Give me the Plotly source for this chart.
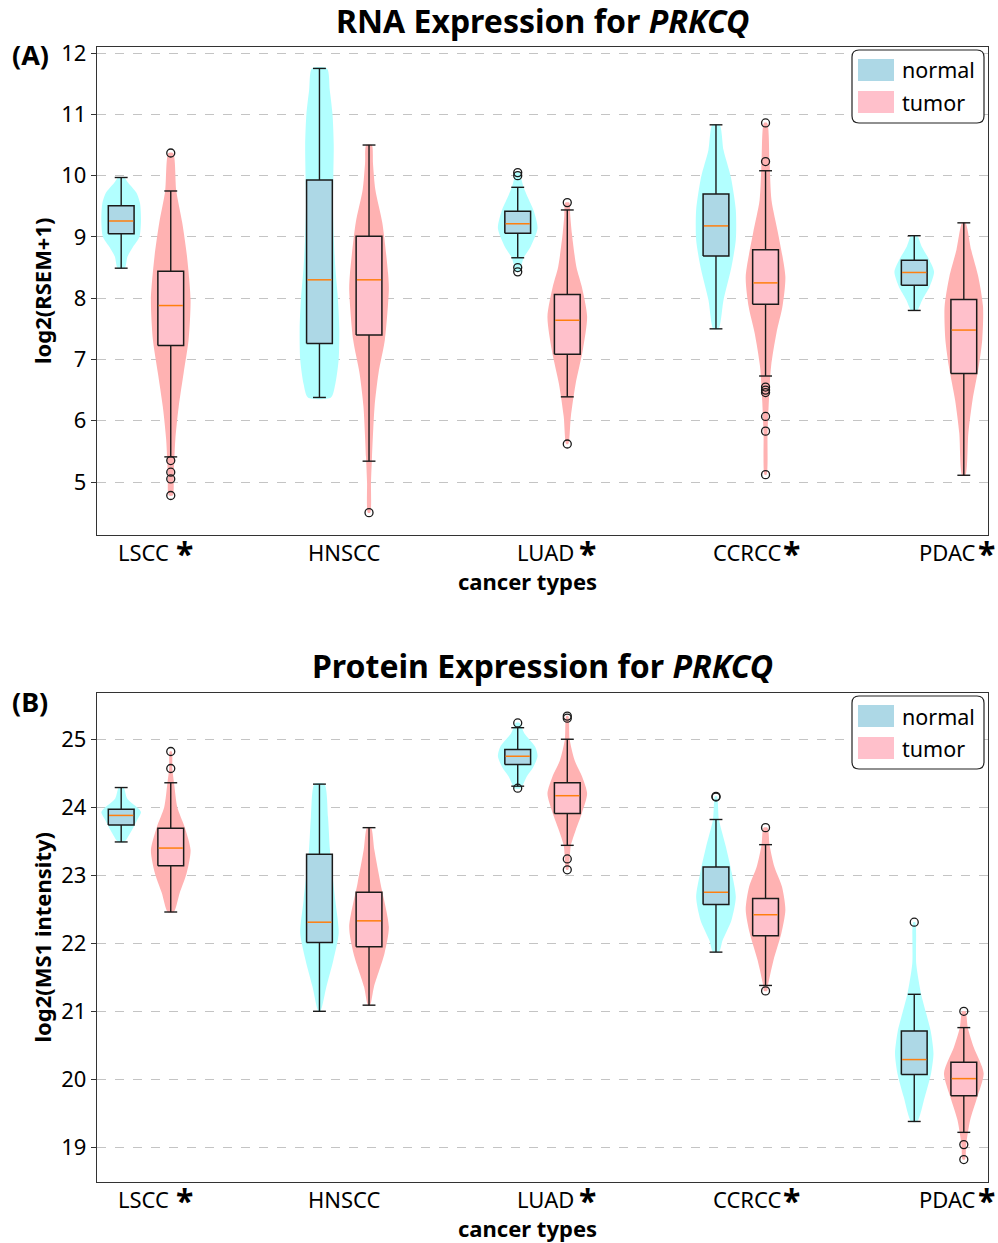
import plotly.graph_objects as go

W, H = 998, 1243
FONT = "Noto Sans"

categories = ["LSCC", "HNSCC", "LUAD", "CCRCC", "PDAC"]
significant = [True, False, True, True, True]

# ---------------- RNA (panel A) ----------------
rna_normal_whislo = [8.49, 6.38, 8.66, 7.50, 7.80]
rna_normal_q1 = [9.05, 7.26, 9.06, 8.69, 8.21]
rna_normal_med = [9.26, 8.30, 9.215, 9.18, 8.42]
rna_normal_q3 = [9.51, 9.93, 9.42, 9.70, 8.62]
rna_normal_whishi = [9.97, 11.75, 9.81, 10.83, 9.02]
rna_normal_fliers = [[], [], [10.05, 10.0, 8.50, 8.43], [], []]

rna_tumor_whislo = [5.41, 5.34, 6.39, 6.73, 5.11]
rna_tumor_q1 = [7.23, 7.40, 7.085, 7.90, 6.77]
rna_tumor_med = [7.88, 8.30, 7.64, 8.25, 7.48]
rna_tumor_q3 = [8.44, 9.01, 8.06, 8.79, 7.98]
rna_tumor_whishi = [9.75, 10.50, 9.44, 10.08, 9.23]
rna_tumor_fliers = [[10.37, 5.35, 5.16, 5.05, 4.78], [4.50], [9.56, 5.62],
                    [10.86, 10.23, 6.55, 6.50, 6.46, 6.07, 5.83, 5.12], []]

# violin density profiles (level, relative width)
rna_normal_vio_y = [
    [8.49, 8.68, 8.84, 9.0, 9.27, 9.55, 9.72, 9.88, 9.97],
    [6.38, 6.6, 7.0, 7.5, 8.0, 8.5, 9.0, 9.5, 10.0, 10.5, 11.0, 11.4, 11.75],
    [8.43, 8.55, 8.66, 8.84, 9.14, 9.43, 9.65, 9.81, 9.95, 10.05],
    [7.5, 7.97, 8.51, 8.95, 9.44, 9.98, 10.42, 10.83],
    [7.8, 7.97, 8.19, 8.43, 8.63, 8.84, 9.02],
]
rna_normal_vio_w = [
    [0.18, 0.32, 0.6, 0.92, 1.0, 0.95, 0.77, 0.36, 0.15],
    [0.58, 0.8, 0.97, 1.0, 0.93, 0.8, 0.72, 0.68, 0.7, 0.72, 0.66, 0.52, 0.38],
    [0.12, 0.2, 0.3, 0.65, 1.0, 0.8, 0.5, 0.3, 0.18, 0.12],
    [0.13, 0.38, 0.78, 1.0, 1.0, 0.75, 0.38, 0.18],
    [0.15, 0.4, 0.78, 1.0, 0.75, 0.38, 0.15],
]
rna_tumor_vio_y = [
    [4.78, 5.13, 5.69, 6.23, 6.78, 7.32, 7.97, 8.68, 9.23, 9.75, 10.37],
    [4.5, 5.0, 5.41, 6.23, 6.78, 7.32, 8.14, 8.41, 9.23, 9.77, 10.2, 10.5],
    [5.62, 6.07, 6.6, 7.15, 7.70, 8.19, 8.51, 9.06, 9.35, 9.56],
    [5.12, 5.8, 6.34, 6.89, 7.43, 7.86, 8.35, 9.06, 9.6, 10.23, 10.86],
    [5.11, 5.8, 6.34, 6.88, 7.32, 7.86, 8.35, 8.79, 9.23],
]
rna_tumor_vio_w = [
    [0.1, 0.15, 0.23, 0.4, 0.65, 0.9, 1.0, 0.82, 0.58, 0.28, 0.12],
    [0.06, 0.1, 0.15, 0.28, 0.48, 0.8, 1.0, 0.96, 0.67, 0.32, 0.2, 0.14],
    [0.05, 0.18, 0.42, 0.78, 1.0, 0.73, 0.46, 0.23, 0.15, 0.1],
    [0.05, 0.1, 0.17, 0.28, 0.55, 0.85, 1.0, 0.63, 0.3, 0.2, 0.08],
    [0.08, 0.23, 0.44, 0.75, 0.93, 0.97, 0.73, 0.37, 0.08],
]

# ---------------- Protein (panel B) ----------------
prot_normal_whislo = [23.49, 21.0, 24.31, 21.87, 19.38]
prot_normal_q1 = [23.74, 22.01, 24.63, 22.57, 20.07]
prot_normal_med = [23.88, 22.31, 24.75, 22.75, 20.29]
prot_normal_q3 = [23.97, 23.31, 24.85, 23.12, 20.71]
prot_normal_whishi = [24.29, 24.34, 25.17, 23.82, 21.25]
prot_normal_fliers = [[], [], [25.24, 24.28], [24.16, 24.15], [22.31]]

prot_tumor_whislo = [22.46, 21.09, 23.44, 21.38, 19.22]
prot_tumor_q1 = [23.14, 21.95, 23.91, 22.11, 19.76]
prot_tumor_med = [23.40, 22.33, 24.17, 22.42, 20.01]
prot_tumor_q3 = [23.69, 22.75, 24.36, 22.66, 20.25]
prot_tumor_whishi = [24.36, 23.70, 25.0, 23.45, 20.76]
prot_tumor_fliers = [[24.82, 24.57], [], [25.34, 25.31, 23.24, 23.08],
                     [23.70, 21.30], [21.0, 19.04, 18.82]]

prot_normal_vio_y = [
    [23.49, 23.66, 23.81, 23.93, 24.0, 24.13, 24.29],
    [21.0, 21.36, 21.75, 22.15, 22.63, 23.37, 23.86, 24.34],
    [24.28, 24.45, 24.59, 24.75, 24.89, 25.09, 25.24],
    [21.87, 22.04, 22.34, 22.68, 23.03, 23.42, 23.82, 24.16],
    [19.38, 19.74, 20.09, 20.38, 20.71, 20.97, 21.25, 21.7, 22.31],
]
prot_normal_vio_w = [
    [0.15, 0.53, 0.8, 1.0, 0.8, 0.3, 0.12],
    [0.05, 0.35, 0.7, 0.97, 0.8, 0.53, 0.43, 0.25],
    [0.15, 0.45, 0.78, 1.0, 0.88, 0.33, 0.1],
    [0.15, 0.33, 0.78, 1.0, 0.8, 0.5, 0.15, 0.05],
    [0.15, 0.53, 0.85, 0.97, 0.83, 0.6, 0.35, 0.1, 0.05],
]
prot_tumor_vio_y = [
    [22.46, 22.74, 23.03, 23.37, 23.71, 24.0, 24.35, 24.57, 24.82],
    [21.09, 21.36, 21.85, 22.24, 22.88, 23.37, 23.70],
    [23.08, 23.44, 23.66, 23.91, 24.2, 24.45, 24.69, 25.0, 25.34],
    [21.30, 21.38, 21.75, 22.15, 22.49, 22.83, 23.12, 23.45, 23.70],
    [18.82, 19.04, 19.40, 19.74, 20.09, 20.47, 20.76, 21.0],
]
prot_tumor_vio_w = [
    [0.15, 0.45, 0.8, 1.0, 0.7, 0.33, 0.17, 0.08, 0.05],
    [0.05, 0.25, 0.78, 1.0, 0.58, 0.27, 0.1],
    [0.05, 0.18, 0.42, 0.73, 1.0, 0.75, 0.37, 0.12, 0.05],
    [0.08, 0.12, 0.4, 0.8, 1.0, 0.83, 0.45, 0.2, 0.1],
    [0.06, 0.12, 0.32, 0.68, 1.0, 0.5, 0.2, 0.08],
]

# ---------------- styling ----------------
OFFSET = 0.125
BOX_W = 0.13
CAP_W = 0.065
VIO_HALF = 0.1
VIO_COL = {"normal": "#b2ffff", "tumor": "#ffb2b2"}
BOX_COL = {"normal": "#add8e6", "tumor": "#ffc0cb"}
MED_COL = "#ff7f0e"
EDGE = "#1a1a1a"

fig = go.Figure()


def add_panel(xa, ya, groups):
    for name, g in groups:
        sign = -1 if name == "normal" else 1
        for i in range(len(categories)):
            pos = i + sign * OFFSET
            vy, vw = g["vy"][i], g["vw"][i]
            xs = [pos + VIO_HALF * w for w in vw] + [pos - VIO_HALF * w for w in vw[::-1]]
            ys = list(vy) + list(vy[::-1])
            xs.append(xs[0]); ys.append(ys[0])
            fig.add_trace(go.Scatter(x=xs, y=ys, xaxis=xa, yaxis=ya, mode="lines",
                                     fill="toself", fillcolor=VIO_COL[name],
                                     line=dict(width=0, color=VIO_COL[name], shape="spline", smoothing=0.7),
                                     hoverinfo="skip", showlegend=False))
    for name, g in groups:
        sign = -1 if name == "normal" else 1
        for i in range(len(categories)):
            pos = i + sign * OFFSET
            lo, q1, med, q3, hi = g["lo"][i], g["q1"][i], g["med"][i], g["q3"][i], g["hi"][i]
            fig.add_trace(go.Scatter(
                x=[pos, pos, None, pos, pos, None, pos - CAP_W / 2, pos + CAP_W / 2, None,
                   pos - CAP_W / 2, pos + CAP_W / 2],
                y=[q1, lo, None, q3, hi, None, lo, lo, None, hi, hi],
                xaxis=xa, yaxis=ya, mode="lines", line=dict(color=EDGE, width=1.4),
                hoverinfo="skip", showlegend=False))
            fig.add_trace(go.Scatter(
                x=[pos - BOX_W / 2, pos + BOX_W / 2, pos + BOX_W / 2, pos - BOX_W / 2, pos - BOX_W / 2],
                y=[q1, q1, q3, q3, q1], xaxis=xa, yaxis=ya, mode="lines", fill="toself",
                fillcolor=BOX_COL[name], line=dict(color=EDGE, width=1.5),
                hoverinfo="skip", showlegend=False))
            fig.add_trace(go.Scatter(
                x=[pos - BOX_W / 2 + 0.004, pos + BOX_W / 2 - 0.004], y=[med, med],
                xaxis=xa, yaxis=ya, mode="lines", line=dict(color=MED_COL, width=1.5),
                hoverinfo="skip", showlegend=False))
            fl = g["fl"][i]
            if fl:
                fig.add_trace(go.Scatter(
                    x=[pos] * len(fl), y=fl, xaxis=xa, yaxis=ya, mode="markers",
                    marker=dict(symbol="circle-open", size=8, color=EDGE, line=dict(width=1.3)),
                    hoverinfo="skip", showlegend=False))


add_panel("x", "y", [
    ("normal", dict(lo=rna_normal_whislo, q1=rna_normal_q1, med=rna_normal_med, q3=rna_normal_q3,
                    hi=rna_normal_whishi, fl=rna_normal_fliers, vy=rna_normal_vio_y, vw=rna_normal_vio_w)),
    ("tumor", dict(lo=rna_tumor_whislo, q1=rna_tumor_q1, med=rna_tumor_med, q3=rna_tumor_q3,
                   hi=rna_tumor_whishi, fl=rna_tumor_fliers, vy=rna_tumor_vio_y, vw=rna_tumor_vio_w)),
])
add_panel("x2", "y2", [
    ("normal", dict(lo=prot_normal_whislo, q1=prot_normal_q1, med=prot_normal_med, q3=prot_normal_q3,
                    hi=prot_normal_whishi, fl=prot_normal_fliers, vy=prot_normal_vio_y, vw=prot_normal_vio_w)),
    ("tumor", dict(lo=prot_tumor_whislo, q1=prot_tumor_q1, med=prot_tumor_med, q3=prot_tumor_q3,
                   hi=prot_tumor_whishi, fl=prot_tumor_fliers, vy=prot_tumor_vio_y, vw=prot_tumor_vio_w)),
])


def PX(x):
    return x / W


def PY(y):
    return 1 - y / H


AX_L, AX_R = 97, 988
TOP_T, TOP_B = 47, 535
BOT_T, BOT_B = 693, 1182

xaxis_common = dict(
    range=[-0.247, 4.247], tickmode="array", tickvals=list(range(len(categories))),
    showticklabels=False, showline=True, mirror=True, linecolor="#333333", linewidth=1.4,
    ticks="", showgrid=False, zeroline=False, automargin=False,
)
yaxis_common = dict(
    showline=True, mirror=True, linecolor="#333333", linewidth=1.4,
    ticks="outside", ticklen=5, tickwidth=1.2, tickcolor="#333333",
    showgrid=True, gridcolor="#c4c4c4", griddash="dash", gridwidth=1, zeroline=False,
    tickfont=dict(family=FONT, size=22, color="black"), dtick=1, automargin=False,
)

fig.update_layout(
    width=W, height=H, margin=dict(l=0, r=0, t=0, b=0, autoexpand=False),
    paper_bgcolor="white", plot_bgcolor="white", showlegend=False,
    xaxis=dict(domain=[PX(AX_L), PX(AX_R)], anchor="y", **xaxis_common),
    yaxis=dict(domain=[PY(TOP_B), PY(TOP_T)], anchor="x", range=[4.135, 12.1], **yaxis_common),
    xaxis2=dict(domain=[PX(AX_L), PX(AX_R)], anchor="y2", **xaxis_common),
    yaxis2=dict(domain=[PY(BOT_B), PY(BOT_T)], anchor="x2", range=[18.49, 25.68], **yaxis_common),
)

annotations = []
shapes = []


def txt(x, y, text, size, bold=False, xanchor="center", yanchor="middle", angle=0, xref="paper",
        xshift=0, **extra):
    annotations.append(dict(
        x=x, y=y, xref=xref, yref="paper", text=f"<b>{text}</b>" if bold else text,
        showarrow=False, xanchor=xanchor, yanchor=yanchor, textangle=angle, xshift=xshift,
        font=dict(family=FONT, size=size, color="black"), **extra))


panels = [
    ("RNA Expression for <i>PRKCQ</i>", "(A)", "log2(RSEM+1)", TOP_T, TOP_B, "x"),
    ("Protein Expression for <i>PRKCQ</i>", "(B)", "log2(MS1 intensity)", BOT_T, BOT_B, "x2"),
]
label_shift = [-2, 0, 3, 7, 8]
star_shift = [39, 0, 45, 51, 47]
for title, tag, ylab, t, b, xa in panels:
    txt(PX((AX_L + AX_R) / 2), PY(t - 27), title, 32, bold=True)
    txt(PX(10), PY(t + 8), tag, 27, bold=True, xanchor="left")
    txt(PX(42), PY((t + b) / 2), ylab, 22, bold=True, angle=-90)
    txt(PX(527.5), PY(b + 46), "cancer types", 22, bold=True)
    for i, cat in enumerate(categories):
        txt(i, PY(b + 17), cat, 22, xref=xa, xshift=label_shift[i])
        if significant[i]:
            txt(i, PY(b + 10), "*", 32, bold=True, xref=xa, xshift=star_shift[i],
                height=26, valign="top")
    lx0, lx1 = 852, 984
    ly0 = t + 3
    ly1 = ly0 + 73
    r = 7
    X, Y = PX, PY
    path = (f"M {X(lx0 + r)},{Y(ly0)} L {X(lx1 - r)},{Y(ly0)} Q {X(lx1)},{Y(ly0)} {X(lx1)},{Y(ly0 + r)} "
            f"L {X(lx1)},{Y(ly1 - r)} Q {X(lx1)},{Y(ly1)} {X(lx1 - r)},{Y(ly1)} "
            f"L {X(lx0 + r)},{Y(ly1)} Q {X(lx0)},{Y(ly1)} {X(lx0)},{Y(ly1 - r)} "
            f"L {X(lx0)},{Y(ly0 + r)} Q {X(lx0)},{Y(ly0)} {X(lx0 + r)},{Y(ly0)} Z")
    shapes.append(dict(type="path", xref="paper", yref="paper", path=path, fillcolor="white",
                       line=dict(color="#222222", width=1.2), layer="above"))
    for k, (lab, col) in enumerate([("normal", BOX_COL["normal"]), ("tumor", BOX_COL["tumor"])]):
        py0 = ly0 + 9 + k * 32
        shapes.append(dict(type="rect", xref="paper", yref="paper", x0=X(858), x1=X(894),
                           y0=Y(py0), y1=Y(py0 + 22), fillcolor=col, line=dict(width=0), layer="above"))
        txt(X(900), Y(py0 + 11), lab, 21.5, xanchor="left")

fig.update_layout(annotations=annotations, shapes=shapes)
fig.write_html(
    "out.html",
    config={"displayModeBar": False},
    post_script="document.body.style.margin='0';",
)
